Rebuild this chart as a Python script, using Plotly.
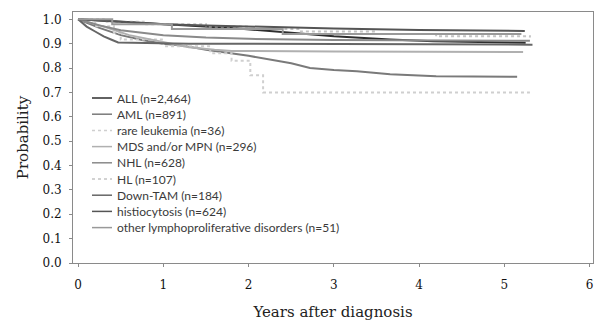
import plotly.graph_objects as go

# Kaplan-Meier style curves (years, probability)
all_t = [0, 0.5, 1.0, 1.43, 1.84, 2.5, 3.0, 3.66, 4.17, 5.25]
all_p = [1.0, 0.99, 0.98, 0.972, 0.963, 0.945, 0.93, 0.917, 0.91, 0.904]

aml_t = [0, 0.25, 0.5, 0.75, 1.0, 1.26, 1.5, 1.84, 2.0, 2.5, 2.72, 3.0, 3.27, 3.66, 4.2, 5.15]
aml_p = [1.0, 0.965, 0.935, 0.915, 0.9, 0.89, 0.875, 0.86, 0.85, 0.82, 0.80, 0.792, 0.787, 0.775, 0.766, 0.764]

rare_t = [0, 0.2, 0.42, 0.5, 1.0, 1.55, 1.8, 2.02, 2.17, 5.3]
rare_p = [1.0, 0.972, 0.944, 0.917, 0.889, 0.861, 0.83, 0.77, 0.70, 0.70]

mds_t = [0, 0.3, 0.6, 1.0, 1.3, 1.6, 1.8, 3.0, 5.22]
mds_p = [1.0, 0.97, 0.935, 0.905, 0.885, 0.875, 0.87, 0.868, 0.866]

nhl_t = [0, 0.25, 0.5, 1.0, 1.5, 2.0, 3.0, 5.3]
nhl_p = [1.0, 0.975, 0.955, 0.935, 0.925, 0.92, 0.915, 0.912]

hl_t = [0, 0.3, 0.8, 1.5, 2.0, 2.6, 3.5, 4.2, 5.3]
hl_p = [1.0, 0.99, 0.98, 0.97, 0.96, 0.95, 0.94, 0.93, 0.925]

tam_t = [0, 0.1, 0.2, 0.3, 0.4, 0.47, 1.3, 2.5, 5.33]
tam_p = [1.0, 0.97, 0.95, 0.93, 0.915, 0.905, 0.9, 0.898, 0.896]

hist_t = [0, 0.5, 1.0, 1.5, 2.0, 3.0, 4.0, 5.24]
hist_p = [1.0, 0.99, 0.98, 0.975, 0.97, 0.962, 0.956, 0.952]

other_t = [0, 0.4, 1.1, 2.4, 5.2]
other_p = [1.0, 0.98, 0.96, 0.94, 0.94]

names = ["ALL (n=2,464)", "AML (n=891)", "rare leukemia (n=36)", "MDS and/or MPN (n=296)",
         "NHL (n=628)", "HL (n=107)", "Down-TAM (n=184)", "histiocytosis (n=624)",
         "other lymphoproliferative disorders (n=51)"]
series = [(all_t, all_p), (aml_t, aml_p), (rare_t, rare_p), (mds_t, mds_p), (nhl_t, nhl_p),
          (hl_t, hl_p), (tam_t, tam_p), (hist_t, hist_p), (other_t, other_p)]
colors = ["#2e2e2e", "#7a7a7a", "#cfcfcf", "#b0b0b0", "#8a8a8a", "#c4c4c4", "#666666", "#555555", "#999999"]
dashes = ["solid", "solid", "dot", "solid", "solid", "dot", "solid", "solid", "solid"]
shapes = ["linear", "linear", "hv", "linear", "linear", "hv", "linear", "linear", "hv"]

W, H = 594, 322
ML, MR, MT, MB = 73, 1, 12, 59
PW, PH = W - ML - MR, H - MT - MB

fig = go.Figure()
for name, (t, p), c, d, s in zip(names, series, colors, dashes, shapes):
    fig.add_trace(go.Scatter(x=t, y=p, mode="lines", name=name, showlegend=False,
                             line=dict(color=c, width=2, shape=s, dash=d)))

# manual legend (compact spacing like the original)
leg_top_px, leg_step_px = 98, 16.2
def px_x(px):
    return (px - ML) / PW
def px_y(py):
    return (H - MB - py) / PH

for i, (name, c, d) in enumerate(zip(names, colors, dashes)):
    yc = px_y(leg_top_px + i * leg_step_px)
    fig.add_shape(type="line", xref="paper", yref="paper",
                  x0=px_x(92), x1=px_x(112), y0=yc, y1=yc,
                  line=dict(color=c, width=1.5, dash=d))
    fig.add_annotation(xref="paper", yref="paper", x=px_x(115), y=yc,
                       xanchor="left", yanchor="middle", showarrow=False, text=name,
                       font=dict(family="Lato", size=12, color="#3a3a3a"))

fig.update_layout(
    width=W, height=H,
    margin=dict(l=ML, r=MR, t=MT, b=MB),
    paper_bgcolor="white", plot_bgcolor="white",
    showlegend=False,
    xaxis=dict(range=[-0.06, 6.04], tickvals=[0, 1, 2, 3, 4, 5, 6],
               showgrid=False, zeroline=False, showline=True, linecolor="#8a8a8a",
               mirror=True, ticks="outside", ticklen=3, tickcolor="#8a8a8a",
               ticklabelstandoff=8,
               tickfont=dict(family="DejaVu Serif", size=12, color="#111111"),
               title=dict(text="Years after diagnosis", standoff=15,
                          font=dict(family="DejaVu Serif", size=15, color="#222222"))),
    yaxis=dict(range=[0, 1.03], tickvals=[0, 0.1, 0.2, 0.3, 0.4, 0.5, 0.6, 0.7, 0.8, 0.9, 1.0],
               ticktext=["0.0", "0.1", "0.2", "0.3", "0.4", "0.5", "0.6", "0.7", "0.8", "0.9", "1.0"],
               showgrid=False, zeroline=False, showline=True, linecolor="#8a8a8a",
               mirror=True, ticks="outside", ticklen=3, tickcolor="#8a8a8a",
               ticklabelstandoff=5,
               tickfont=dict(family="DejaVu Serif", size=12, color="#111111"),
               title=dict(text="Probability", standoff=10,
                          font=dict(family="DejaVu Serif", size=15, color="#222222"))),
)

fig.write_html("out.html")
